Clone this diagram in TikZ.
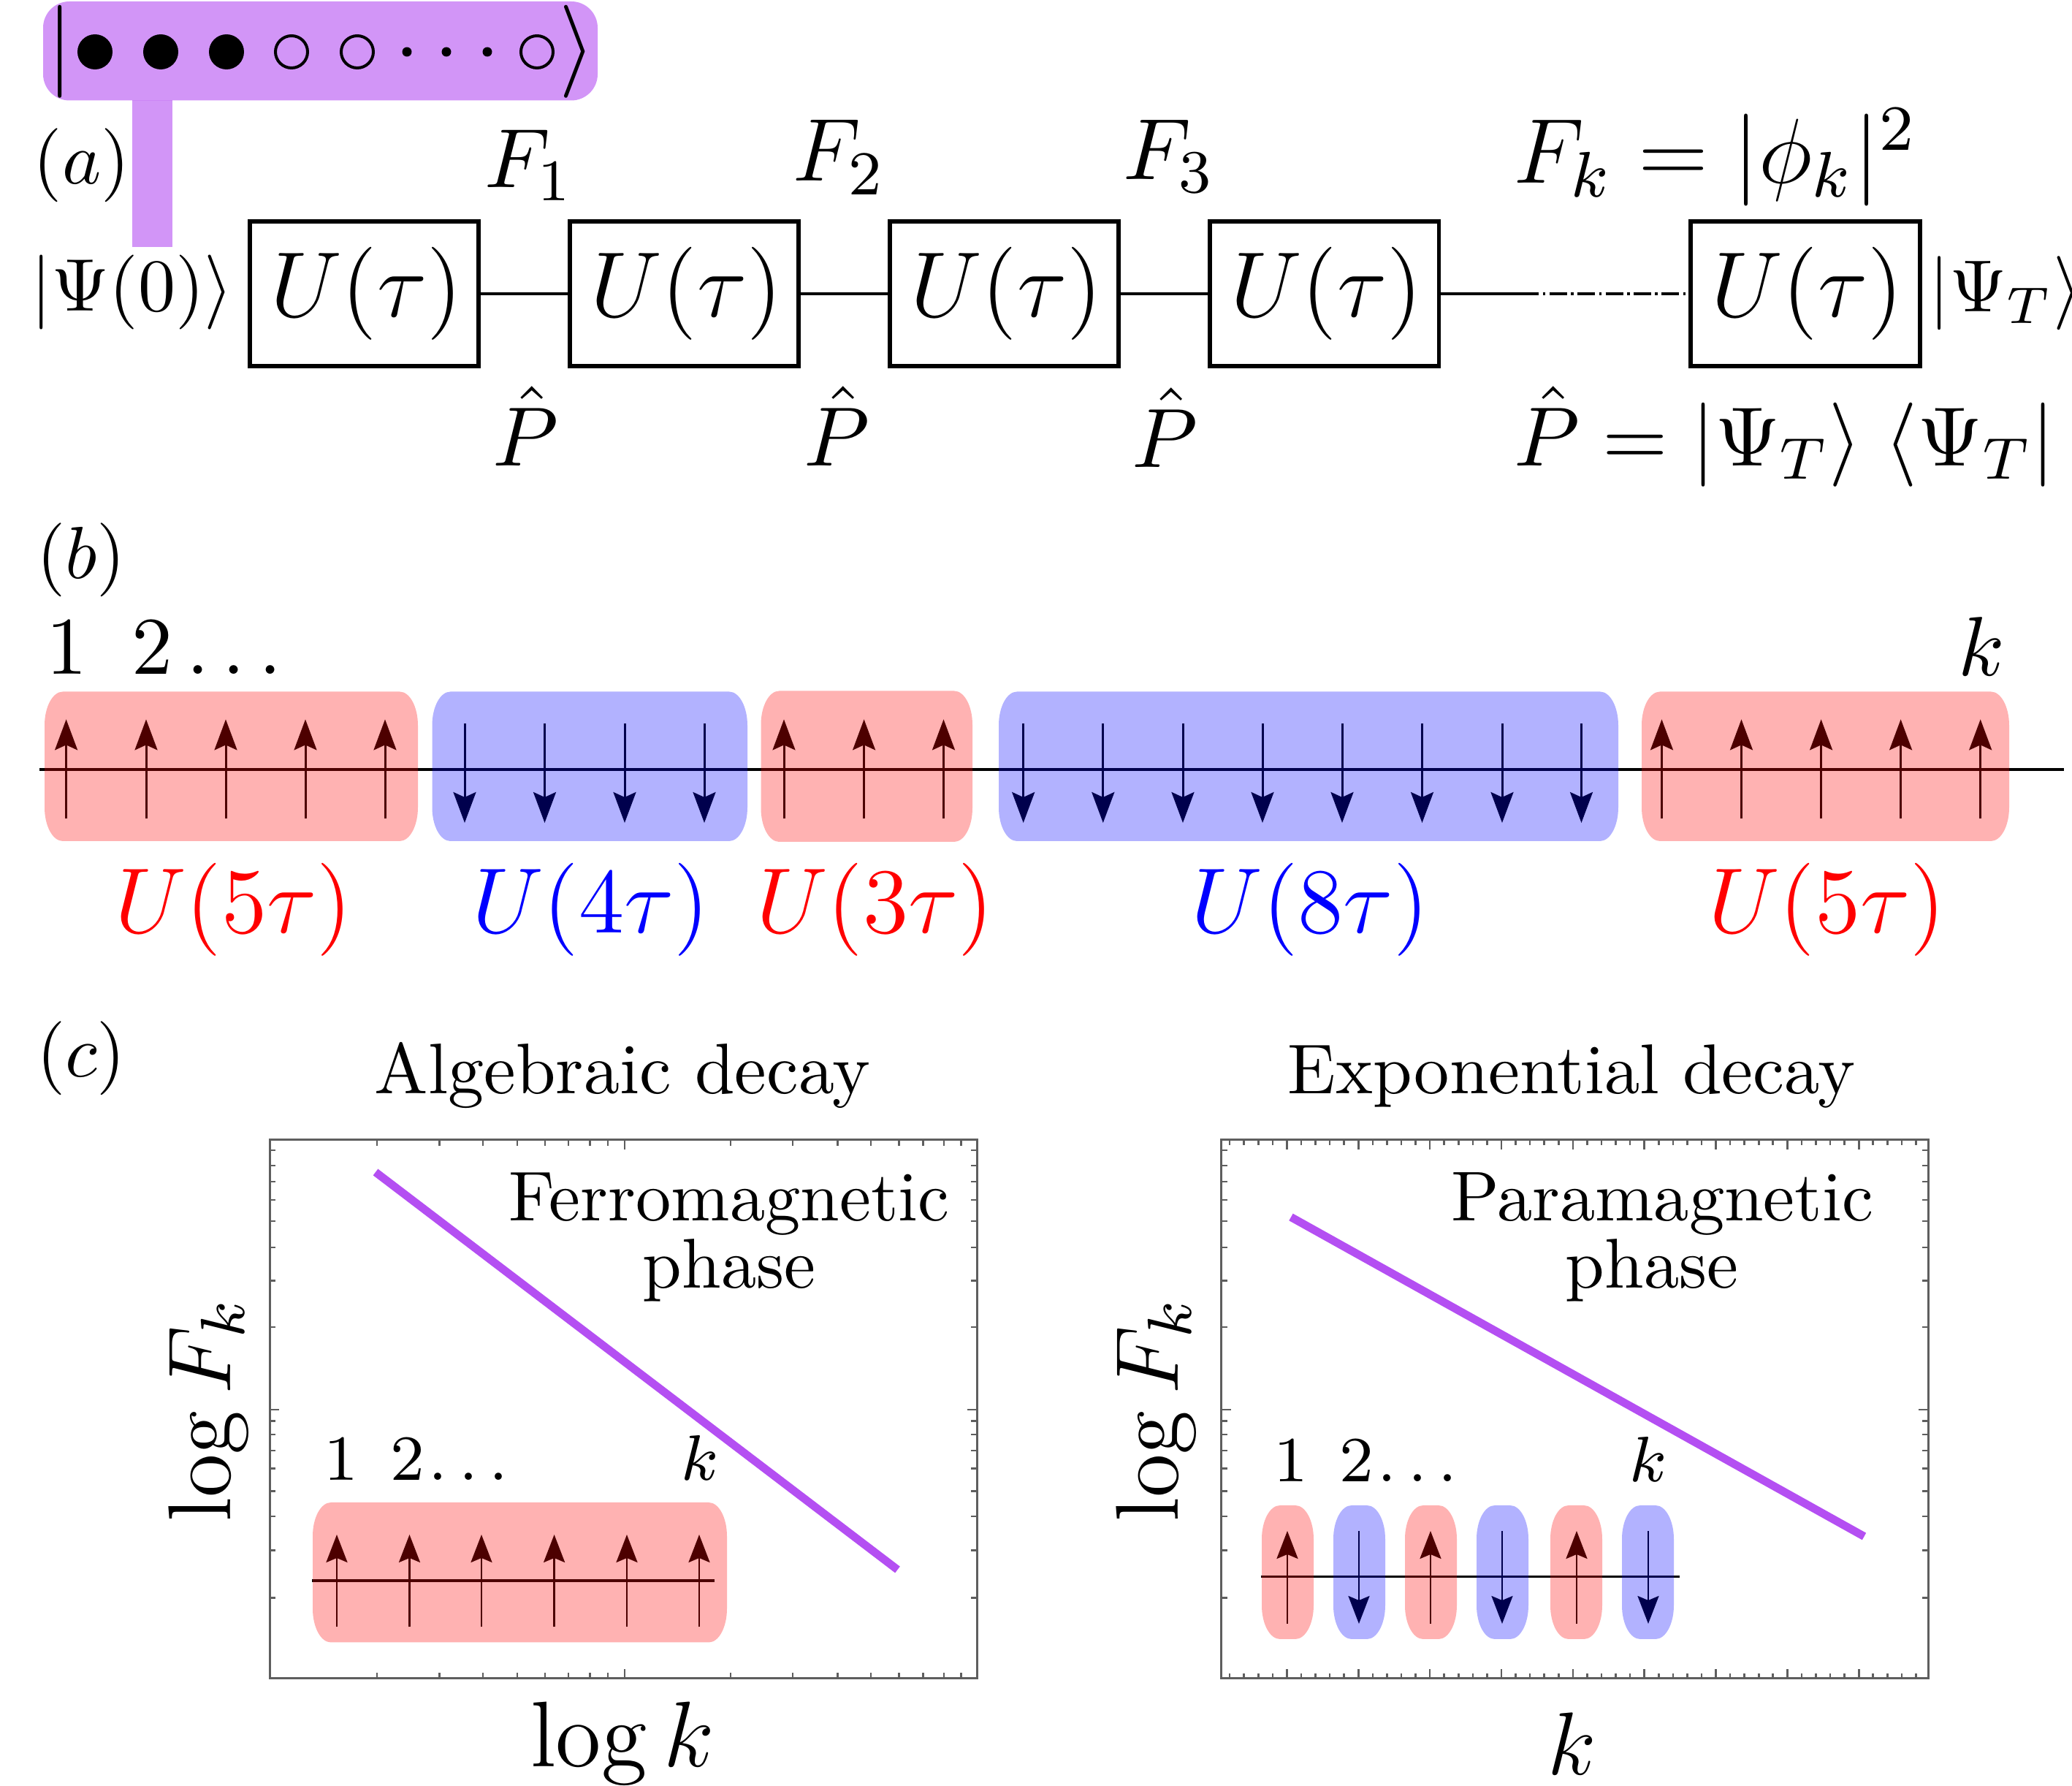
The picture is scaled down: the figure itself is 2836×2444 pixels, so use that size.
\documentclass[tikz,border=0pt]{standalone}
\usepackage{fix-cm}
\usetikzlibrary{arrows.meta}
\definecolor{statepurple}{HTML}{B44FF2}
\definecolor{framegray}{HTML}{5E5E5E}
\newcommand{\softband}[5]{
    \fill[#1, fill opacity=0.3] ({#2+25},#4) -- ({#3-25},#4) .. controls ({#3-11},#4) and (#3,{#4+21}) .. (#3,{#4+46})
        -- (#3,{#5-46}) .. controls (#3,{#5-21}) and ({#3-11},#5) .. ({#3-25},#5)
        -- ({#2+25},#5) .. controls ({#2+11},#5) and (#2,{#5-21}) .. (#2,{#5-46})
        -- (#2,{#4+46}) .. controls (#2,{#4+21}) and ({#2+11},#4) .. ({#2+25},#4) -- cycle;
}
\begin{document}
\begin{tikzpicture} [
                    x=0.1pt, y=-0.1pt,
                    ubox/.style={draw, line width=0.6pt, minimum width=31.4pt, minimum height=19.8pt, inner sep=0pt, font=\fontsize{12.7}{15}\selectfont},
                    wire/.style={line width=0.4pt},
                    chain/.style={line width=0.33pt},
                    spinup/.style={line width=0.3pt, -{Stealth[length=4.2pt, width=3.1pt, inset=0.7pt]}},
                    spinsmall/.style={line width=0.27pt, -{Stealth[length=3.8pt, width=2.9pt, inset=0.6pt]}},
                    lab/.style={inner sep=0pt, anchor=base west},
                    big/.style={lab, font=\fontsize{12.2}{15}\selectfont},
                    mid/.style={lab, font=\fontsize{11.5}{14}\selectfont},
                    plain/.style={lab, font=\fontsize{10.1}{12}\selectfont},
                    word/.style={inner sep=0pt, anchor=base, font=\fontsize{9.65}{11}\selectfont},
                    tiny/.style={lab, font=\fontsize{8.8}{11}\selectfont},
                    gate/.style={inner sep=0pt, font=\fontsize{12.7}{15}\selectfont},
                    frame/.style={draw=framegray, line width=0.3pt},
                    tick/.style={draw=framegray, line width=0.26pt},
                    decay/.style={statepurple, line width=1.1pt}
                ]
                \useasboundingbox (0,0) rectangle (2836,2444);

                \fill[statepurple, fill opacity=0.6, rounded corners=3.6pt] (59,2) rectangle (818,137.5);
                \fill[statepurple, fill opacity=0.6] (181,137.5) rectangle (235.5,338);
                \node [gate] (ketl) at (82,71) {$|$};
                \node [gate] (ketr) at (790,71) {$\rangle$};
                \foreach \x [count=\i] in {130,220,310}
                    \node [circle, fill=black, minimum size=4.8pt, inner sep=0pt] (full\i) at (\x,71) {};
                \foreach \x [count=\i] in {399,489,735}
                    \node [circle, draw=black, line width=0.4pt, minimum size=4.4pt, inner sep=0pt] (hole\i) at (\x,71) {};
                \foreach \x [count=\i] in {557,611,667}
                    \node [circle, fill=black, minimum size=1.3pt, inner sep=0pt] (dot\i) at (\x,71) {};

                \foreach \x [count=\i] in {498.5,936.5,1374.5,1812.5,2470.5}
                    \node [ubox] (u\i) at (\x,402) {\hspace{0.6pt}$U(\tau)$};
                \coordinate (dashstart) at (2082,402);
                \draw [wire] (u1) -- (u2);
                \draw [wire] (u2) -- (u3);
                \draw [wire] (u3) -- (u4);
                \draw [wire] (u4) -- (dashstart);
                \draw [wire, dash pattern=on 2.4pt off 0.55pt on 0.35pt off 0.55pt] (dashstart) -- (u5);

                \node [plain] (laba) at (44,252) {$(a)$};
                \node [plain, font=\fontsize{10.2}{12}\selectfont] (psi0) at (40,426) {$|\Psi(0)\rangle$};
                \node [plain] (psiT) at (2638,427) {$|\Psi_T\rangle$};
                \node [mid] (f1) at (661,257) {$F_1$};
                \node [big] (f2) at (1082,248) {$F_2$};
                \node [mid, font=\fontsize{11.9}{14}\selectfont] (f3) at (1535,246) {$F_3$};
                \node [big, font=\fontsize{12.6}{15}\selectfont] (fk) at (2069,251) {$F_k=|\phi_k|^2$};
                \node [mid] (p1) at (672,638) {$\hat{P}$};
                \node [mid] (p2) at (1098,638) {$\hat{P}$};
                \node [mid] (p3) at (1547,640) {$\hat{P}$};
                \node [mid] (pk) at (2070,638) {$\hat{P}=|\Psi_T\rangle\;\langle\Psi_T|$};

                \node [plain] (labb) at (48,791.5) {$(b)$};
                \node [mid, font=\fontsize{11.2}{14}\selectfont] (sitesb) at (61,923) {$1\hspace{0.55em}2\ldots$};
                \node [mid] (kb) at (2678,925) {$k$};
                \coordinate (chainl) at (54,1053);
                \coordinate (chainr) at (2825,1053);
                \draw [chain] (chainl) -- (chainr);
                \foreach \x in {90.6,200,309,418,527,1073,1182.6,1291.5,2274.5,2383.5,2492.6,2601.6,2710.7}
                    \draw [spinup] (\x,1120.5) -- (\x,984.4);
                \foreach \x in {636,745.5,855,964,1400.7,1509.8,1619,1728,1837,1946.5,2056,2164.5}
                    \draw [spinup] (\x,990) -- (\x,1126);
                \softband{red}{61}{572}{946.5}{1151}
                \softband{blue}{591.5}{1023}{946.5}{1151}
                \softband{red}{1041.5}{1331}{945.5}{1152}
                \softband{blue}{1367}{2215}{946.5}{1151}
                \softband{red}{2247}{2750}{946.5}{1151}
                \node [gate, red] (g1) at (319.5,1245) {$U(5\tau)$};
                \node [gate, blue] (g2) at (808.5,1245) {$U(4\tau)$};
                \node [gate, red] (g3) at (1197.5,1245) {$U(3\tau)$};
                \node [gate, blue] (g4) at (1793,1245) {$U(8\tau)$};
                \node [gate, red] (g5) at (2500.5,1245) {$U(5\tau)$};

                \node [plain] (labc) at (48,1474) {$(c)$};
                \node [word, font=\fontsize{9.8}{11}\selectfont] (tleft) at (852,1497) {Algebraic decay};
                \node [word] (tright) at (2151,1497) {Exponential decay};
                \node [word] (ferro) at (998,1670.5) {Ferromagnetic};
                \node [word] (ferrop) at (998,1763) {phase};
                \node [word] (para) at (2275,1670.5) {Paramagnetic};
                \node [word] (parap) at (2261,1763) {phase};

                \draw [frame] (369,1560) rectangle (1337,2297);
                \draw [frame] (1671.5,1560) rectangle (2639,2297);
                \foreach \xl/\xr in {369/1337,1671.5/2639} {
                    \foreach \y/\len in {1574/8,1595/8,1617/8,1642/8,1671/8,1707/8,1752.5/8,1816/8,1929/13,1944.6/8,1963/8,1985/8,2009.5/8,2040.6/8,2075/8,2121.7/8,2186.6/8} {
                        \draw [tick] (\xl,\y) -- ++(\len,0);
                        \draw [tick] (\xr,\y) -- ++(-\len,0);
                    }
                }
                \foreach \x/\len in {516/8,601.7/8,661/8,708/8,746/8,778/8,807.5/8,832/8,855/13,1000/8,1085/8,1146.5/8,1192/8,1230.6/8,1263.5/8,1292/8,1315.5/8} {
                    \draw [tick] (\x,1560) -- ++(0,\len);
                    \draw [tick] (\x,2297) -- ++(0,-\len);
                }
                \foreach \i [evaluate=\i as \x using 1761.4+19.57*\i] in {-4,...,44} {
                    \pgfmathsetmacro{\ticklen}{mod(\i,5)==0 ? 13 : 7}
                    \draw [tick] (\x,1560) -- ++(0,\ticklen);
                    \draw [tick] (\x,2297) -- ++(0,-\ticklen);
                }

                \coordinate (fallla) at (514,1604);
                \coordinate (falllb) at (1228.5,2148);
                \coordinate (fallra) at (1767,1665.5);
                \coordinate (fallrb) at (2551.5,2102.5);
                \draw [decay] (fallla) -- (falllb);
                \draw [decay] (fallra) -- (fallrb);

                \node [big, rotate=90, anchor=base] (ylabl) at (316,1929.5) {$\log F_k$};
                \node [big, rotate=90, anchor=base] (ylabr) at (1612,1929.5) {$\log F_k$};
                \node [big, anchor=base, font=\fontsize{12.75}{15}\selectfont] (xlabl) at (852,2418) {$\log k$};
                \node [big, anchor=base] (xlabr) at (2152,2429) {$k$};

                \node [tiny] (sitesl) at (442,2026) {$1\hspace{0.5em}2\mkern-2mu\ldots$};
                \node [tiny] (kl) at (930,2026) {$k$};
                \coordinate (insetl) at (427,2163);
                \coordinate (insetlr) at (978,2163);
                \draw [chain] (insetl) -- (insetlr);
                \foreach \x in {461,560.5,659,758.6,858,957}
                    \draw [spinsmall] (\x,2226.5) -- (\x,2100);
                \softband{red}{428}{995}{2056}{2247.5}

                \node [tiny] (sitesr) at (1741,2027.5) {$1\hspace{0.5em}2\mkern-2mu\ldots$};
                \node [tiny] (kr) at (2228,2027.5) {$k$};
                \coordinate (insetr) at (1725.5,2157.5);
                \coordinate (insetrr) at (2299,2157.5);
                \draw [chain] (insetr) -- (insetrr);
                \foreach \x in {1762,1958,2158}
                    \draw [spinsmall] (\x,2222) -- (\x,2095);
                \foreach \x in {1860,2056,2256}
                    \draw [spinsmall] (\x,2095) -- (\x,2222);
                \foreach \xa/\xb in {1727/1798,1923/1994,2122/2193} {
                    \softband{red}{\xa}{\xb}{2060}{2243}
                }
                \foreach \xa/\xb in {1825/1896,2021/2092,2220/2291} {
                    \softband{blue}{\xa}{\xb}{2060}{2243}
                }
\end{tikzpicture}
\end{document}
